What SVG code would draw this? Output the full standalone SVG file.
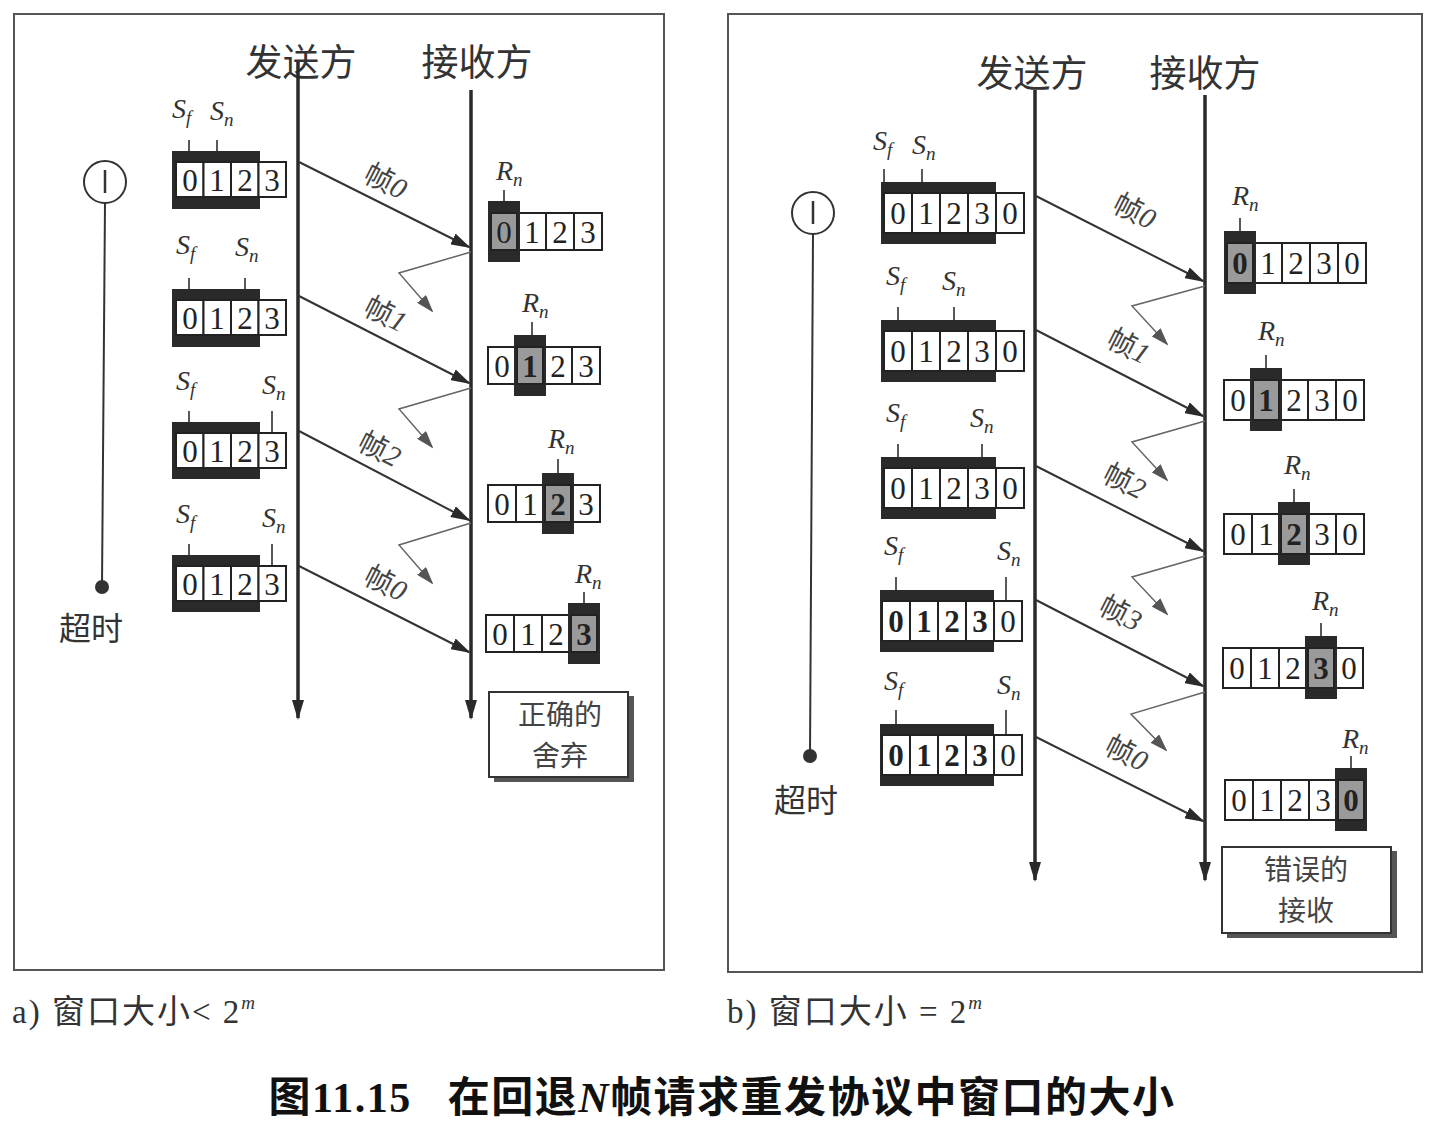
<svg xmlns="http://www.w3.org/2000/svg" width="1435" height="1126" viewBox="0 0 1435 1126">
<defs>
<style>
.panel{fill:#fff;stroke:#555;stroke-width:2}
.tl{stroke:#2a2a2a;stroke-width:3.5;fill:none}
.fr{stroke:#333;stroke-width:2;fill:none}
.ack{stroke:#666;stroke-width:1.5;fill:none}
.band{fill:#2a2a2a}
.cell{fill:#fff;stroke:#222;stroke-width:2}
.sh{fill:#9a9a9a;stroke:#222;stroke-width:2}
.tick{stroke:#222;stroke-width:1.5}
.dg{font-family:"Liberation Serif",serif;font-size:31px;fill:#222;text-anchor:middle}
.dgb{font-family:"Liberation Serif",serif;font-size:31px;font-weight:bold;fill:#222;text-anchor:middle}
.var{font-family:"Liberation Serif",serif;font-style:italic;font-size:28px;fill:#333}
.sub{font-size:19px}
.hd{font-family:"Noto Sans CJK SC",sans-serif;font-size:37px;fill:#333;text-anchor:middle}
.fl{font-family:"Noto Sans CJK SC",sans-serif;font-size:29px;fill:#444;text-anchor:middle}
.cap{font-family:"Liberation Serif","Noto Sans CJK SC",serif;font-size:33px;fill:#333;letter-spacing:2px}
.title{font-family:"Liberation Serif","Noto Sans CJK SC",serif;font-size:42px;font-weight:bold;fill:#111;text-anchor:middle;letter-spacing:1.5px}
.box{fill:#fff;stroke:#333;stroke-width:2}
.shadow{fill:#555}
.bt{font-family:"Noto Sans CJK SC",sans-serif;font-size:28px;fill:#444;text-anchor:middle}
</style>
<marker id="ah" markerWidth="20" markerHeight="12" refX="18" refY="6" orient="auto" markerUnits="userSpaceOnUse"><path d="M0,0 L20,6 L0,12 Z" fill="#2a2a2a"/></marker>
<marker id="ahs" markerWidth="18" markerHeight="12" refX="16" refY="6" orient="auto" markerUnits="userSpaceOnUse"><path d="M0,0 L18,6 L0,12 Z" fill="#555"/></marker>
</defs>
<rect width="1435" height="1126" fill="#fff"/>

<g id="panel-a">
<rect class="panel" x="14" y="14" width="650" height="956"/>
<text class="hd" x="301" y="76">发送方</text>
<text class="hd" x="477" y="76">接收方</text>
</g>
<g id="panel-b">
<rect class="panel" x="728" y="14" width="694" height="958"/>
<text class="hd" x="1032" y="87">发送方</text>
<text class="hd" x="1205" y="87">接收方</text>
</g>

<g id="timer-a">
<circle cx="105" cy="182" r="21" fill="#fff" stroke="#333" stroke-width="2"/>
<line x1="105" y1="170" x2="105" y2="193" stroke="#333" stroke-width="2.5"/>
<line x1="105" y1="203" x2="102" y2="586" stroke="#333" stroke-width="2"/>
<circle cx="102" cy="587" r="7" fill="#333"/>
<text class="hd" x="91" y="640" style="font-size:32px">超时</text>
</g>
<g id="timer-b">
<circle cx="813" cy="213" r="21" fill="#fff" stroke="#333" stroke-width="2"/>
<line x1="813" y1="201" x2="813" y2="224" stroke="#333" stroke-width="2.5"/>
<line x1="813" y1="234" x2="810" y2="755" stroke="#333" stroke-width="2"/>
<circle cx="810" cy="756" r="7" fill="#333"/>
<text class="hd" x="806" y="812" style="font-size:32px">超时</text>
</g>

<g id="connectors">
<line class="tl" x1="298" y1="62" x2="298" y2="718" marker-end="url(#ah)"/>
<line class="tl" x1="471" y1="90" x2="471" y2="718" marker-end="url(#ah)"/>
<line class="tl" x1="1035" y1="90" x2="1035" y2="880" marker-end="url(#ah)"/>
<line class="tl" x1="1205" y1="95" x2="1205" y2="880" marker-end="url(#ah)"/>

<line class="fr" x1="299" y1="162" x2="469" y2="247" marker-end="url(#ah)"/>
<line class="fr" x1="299" y1="296" x2="469" y2="383" marker-end="url(#ah)"/>
<line class="fr" x1="299" y1="431" x2="469" y2="520" marker-end="url(#ah)"/>
<line class="fr" x1="299" y1="566" x2="469" y2="652" marker-end="url(#ah)"/>
<polyline class="ack" points="471,252 399,273 432,311" marker-end="url(#ahs)"/>
<polyline class="ack" points="471,388 399,409 432,447" marker-end="url(#ahs)"/>
<polyline class="ack" points="471,523 399,545 432,583" marker-end="url(#ahs)"/>

<line class="fr" x1="1036" y1="196" x2="1203" y2="281" marker-end="url(#ah)"/>
<line class="fr" x1="1036" y1="330" x2="1203" y2="416" marker-end="url(#ah)"/>
<line class="fr" x1="1036" y1="466" x2="1203" y2="551" marker-end="url(#ah)"/>
<line class="fr" x1="1036" y1="600" x2="1203" y2="686" marker-end="url(#ah)"/>
<line class="fr" x1="1036" y1="737" x2="1203" y2="821" marker-end="url(#ah)"/>
<polyline class="ack" points="1205,286 1132,306 1167,344" marker-end="url(#ahs)"/>
<polyline class="ack" points="1205,421 1132,442 1167,480" marker-end="url(#ahs)"/>
<polyline class="ack" points="1205,556 1132,577 1167,614" marker-end="url(#ahs)"/>
<polyline class="ack" points="1205,692 1131,714 1166,750" marker-end="url(#ahs)"/>

<text class="fl" transform="translate(381,190) rotate(27)">帧<tspan font-style="italic" font-family="Liberation Serif">0</tspan></text>
<text class="fl" transform="translate(381,323) rotate(27)">帧<tspan font-style="italic" font-family="Liberation Serif">1</tspan></text>
<text class="fl" transform="translate(375,458) rotate(27)">帧<tspan font-style="italic" font-family="Liberation Serif">2</tspan></text>
<text class="fl" transform="translate(381,592) rotate(27)">帧<tspan font-style="italic" font-family="Liberation Serif">0</tspan></text>
<text class="fl" transform="translate(1130,220) rotate(27)">帧<tspan font-style="italic" font-family="Liberation Serif">0</tspan></text>
<text class="fl" transform="translate(1124,355) rotate(27)">帧<tspan font-style="italic" font-family="Liberation Serif">1</tspan></text>
<text class="fl" transform="translate(1120,490) rotate(27)">帧<tspan font-style="italic" font-family="Liberation Serif">2</tspan></text>
<text class="fl" transform="translate(1116,622) rotate(27)">帧<tspan font-style="italic" font-family="Liberation Serif">3</tspan></text>
<text class="fl" transform="translate(1122,762) rotate(27)">帧<tspan font-style="italic" font-family="Liberation Serif">0</tspan></text>
</g>

<!-- Sender windows, panel a -->
<g id="sa1">
<text class="var" x="172" y="118">S<tspan class="sub" dy="6">f</tspan></text>
<text class="var" x="210" y="120">S<tspan class="sub" dy="6">n</tspan></text>
<line class="tick" x1="189" y1="140" x2="189" y2="153"/><line class="tick" x1="217" y1="140" x2="217" y2="153"/>
<rect class="band" x="172" y="151" width="88" height="58"/>
<rect class="cell" x="176" y="162" width="27.5" height="35"/><rect class="cell" x="203.5" y="162" width="27.5" height="35"/><rect class="cell" x="231" y="162" width="27.5" height="35"/><rect class="cell" x="258.5" y="162" width="27.5" height="35"/>
<text class="dg" x="190" y="191">0</text><text class="dg" x="217" y="191">1</text><text class="dg" x="245" y="191">2</text><text class="dg" x="272" y="191">3</text>
</g>
<g id="sa2">
<text class="var" x="176" y="254">S<tspan class="sub" dy="6">f</tspan></text>
<text class="var" x="235" y="256">S<tspan class="sub" dy="6">n</tspan></text>
<line class="tick" x1="189" y1="278" x2="189" y2="291"/><line class="tick" x1="245" y1="278" x2="245" y2="291"/>
<rect class="band" x="172" y="289" width="88" height="58"/>
<rect class="cell" x="176" y="300" width="27.5" height="35"/><rect class="cell" x="203.5" y="300" width="27.5" height="35"/><rect class="cell" x="231" y="300" width="27.5" height="35"/><rect class="cell" x="258.5" y="300" width="27.5" height="35"/>
<text class="dg" x="190" y="329">0</text><text class="dg" x="217" y="329">1</text><text class="dg" x="245" y="329">2</text><text class="dg" x="272" y="329">3</text>
</g>
<g id="sa3">
<text class="var" x="176" y="390">S<tspan class="sub" dy="6">f</tspan></text>
<text class="var" x="262" y="394">S<tspan class="sub" dy="6">n</tspan></text>
<line class="tick" x1="189" y1="411" x2="189" y2="424"/><line class="tick" x1="272" y1="411" x2="272" y2="433"/>
<rect class="band" x="172" y="422" width="88" height="57"/>
<rect class="cell" x="176" y="433" width="27.5" height="35"/><rect class="cell" x="203.5" y="433" width="27.5" height="35"/><rect class="cell" x="231" y="433" width="27.5" height="35"/><rect class="cell" x="258.5" y="433" width="27.5" height="35"/>
<text class="dg" x="190" y="462">0</text><text class="dg" x="217" y="462">1</text><text class="dg" x="245" y="462">2</text><text class="dg" x="272" y="462">3</text>
</g>
<g id="sa4">
<text class="var" x="176" y="523">S<tspan class="sub" dy="6">f</tspan></text>
<text class="var" x="262" y="527">S<tspan class="sub" dy="6">n</tspan></text>
<line class="tick" x1="189" y1="544" x2="189" y2="557"/><line class="tick" x1="272" y1="544" x2="272" y2="566"/>
<rect class="band" x="172" y="555" width="88" height="57"/>
<rect class="cell" x="176" y="566" width="27.5" height="35"/><rect class="cell" x="203.5" y="566" width="27.5" height="35"/><rect class="cell" x="231" y="566" width="27.5" height="35"/><rect class="cell" x="258.5" y="566" width="27.5" height="35"/>
<text class="dg" x="190" y="595">0</text><text class="dg" x="217" y="595">1</text><text class="dg" x="245" y="595">2</text><text class="dg" x="272" y="595">3</text>
</g>

<!-- Receiver windows, panel a -->
<g id="ra1">
<text class="var" x="496" y="180">R<tspan class="sub" dy="6">n</tspan></text>
<line class="tick" x1="504" y1="190" x2="504" y2="202"/>
<rect class="cell" x="490" y="213" width="28" height="37"/><rect class="cell" x="518" y="213" width="28" height="37"/><rect class="cell" x="546" y="213" width="28" height="37"/><rect class="cell" x="574" y="213" width="28" height="37"/>
<rect class="band" x="488" y="201" width="32" height="61"/><rect class="sh" x="491" y="213" width="26" height="37"/>
<text class="dg" x="504" y="243">0</text><text class="dg" x="532" y="243">1</text><text class="dg" x="560" y="243">2</text><text class="dg" x="588" y="243">3</text>
</g>
<g id="ra2">
<text class="var" x="522" y="312">R<tspan class="sub" dy="6">n</tspan></text>
<line class="tick" x1="532" y1="322" x2="532" y2="336"/>
<rect class="cell" x="488" y="347" width="28" height="37"/><rect class="cell" x="516" y="347" width="28" height="37"/><rect class="cell" x="544" y="347" width="28" height="37"/><rect class="cell" x="572" y="347" width="28" height="37"/>
<rect class="band" x="514" y="335" width="32" height="61"/><rect class="sh" x="517" y="347" width="26" height="37"/>
<text class="dg" x="502" y="377">0</text><text class="dgb" x="530" y="377">1</text><text class="dg" x="558" y="377">2</text><text class="dg" x="586" y="377">3</text>
</g>
<g id="ra3">
<text class="var" x="548" y="448">R<tspan class="sub" dy="6">n</tspan></text>
<line class="tick" x1="558" y1="459" x2="558" y2="474"/>
<rect class="cell" x="488" y="485" width="28" height="37"/><rect class="cell" x="516" y="485" width="28" height="37"/><rect class="cell" x="544" y="485" width="28" height="37"/><rect class="cell" x="572" y="485" width="28" height="37"/>
<rect class="band" x="542" y="473" width="32" height="61"/><rect class="sh" x="545" y="485" width="26" height="37"/>
<text class="dg" x="502" y="515">0</text><text class="dg" x="530" y="515">1</text><text class="dgb" x="558" y="515">2</text><text class="dg" x="586" y="515">3</text>
</g>
<g id="ra4">
<text class="var" x="575" y="583">R<tspan class="sub" dy="6">n</tspan></text>
<line class="tick" x1="584" y1="592" x2="584" y2="604"/>
<rect class="cell" x="486" y="615" width="28" height="37"/><rect class="cell" x="514" y="615" width="28" height="37"/><rect class="cell" x="542" y="615" width="28" height="37"/><rect class="cell" x="570" y="615" width="28" height="37"/>
<rect class="band" x="568" y="603" width="32" height="61"/><rect class="sh" x="571" y="615" width="26" height="37"/>
<text class="dg" x="500" y="645">0</text><text class="dg" x="528" y="645">1</text><text class="dg" x="556" y="645">2</text><text class="dgb" x="584" y="645">3</text>
</g>
<g id="note-a">
<rect class="shadow" x="494" y="696" width="140" height="86"/>
<rect class="box" x="489" y="692" width="139" height="85"/>
<text class="bt" x="560" y="725">正确的</text>
<text class="bt" x="560" y="766">舍弃</text>
</g>

<!-- Sender windows, panel b -->
<g id="sb1">
<text class="var" x="873" y="150">S<tspan class="sub" dy="6">f</tspan></text>
<text class="var" x="912" y="154">S<tspan class="sub" dy="6">n</tspan></text>
<line class="tick" x1="884" y1="169" x2="884" y2="184"/><line class="tick" x1="922" y1="169" x2="922" y2="184"/>
<rect class="band" x="881" y="182" width="115" height="62"/>
<rect class="cell" x="884" y="193" width="28" height="40"/><rect class="cell" x="912" y="193" width="28" height="40"/><rect class="cell" x="940" y="193" width="28" height="40"/><rect class="cell" x="968" y="193" width="28" height="40"/><rect class="cell" x="996" y="193" width="28" height="40"/>
<text class="dg" x="898" y="224">0</text><text class="dg" x="926" y="224">1</text><text class="dg" x="954" y="224">2</text><text class="dg" x="982" y="224">3</text><text class="dg" x="1010" y="224">0</text>
</g>
<g id="sb2">
<text class="var" x="886" y="285">S<tspan class="sub" dy="6">f</tspan></text>
<text class="var" x="942" y="290">S<tspan class="sub" dy="6">n</tspan></text>
<line class="tick" x1="898" y1="307" x2="898" y2="322"/><line class="tick" x1="954" y1="307" x2="954" y2="322"/>
<rect class="band" x="881" y="320" width="115" height="62"/>
<rect class="cell" x="884" y="331" width="28" height="40"/><rect class="cell" x="912" y="331" width="28" height="40"/><rect class="cell" x="940" y="331" width="28" height="40"/><rect class="cell" x="968" y="331" width="28" height="40"/><rect class="cell" x="996" y="331" width="28" height="40"/>
<text class="dg" x="898" y="362">0</text><text class="dg" x="926" y="362">1</text><text class="dg" x="954" y="362">2</text><text class="dg" x="982" y="362">3</text><text class="dg" x="1010" y="362">0</text>
</g>
<g id="sb3">
<text class="var" x="886" y="422">S<tspan class="sub" dy="6">f</tspan></text>
<text class="var" x="970" y="427">S<tspan class="sub" dy="6">n</tspan></text>
<line class="tick" x1="898" y1="444" x2="898" y2="459"/><line class="tick" x1="982" y1="444" x2="982" y2="459"/>
<rect class="band" x="881" y="457" width="115" height="62"/>
<rect class="cell" x="884" y="468" width="28" height="40"/><rect class="cell" x="912" y="468" width="28" height="40"/><rect class="cell" x="940" y="468" width="28" height="40"/><rect class="cell" x="968" y="468" width="28" height="40"/><rect class="cell" x="996" y="468" width="28" height="40"/>
<text class="dg" x="898" y="499">0</text><text class="dg" x="926" y="499">1</text><text class="dg" x="954" y="499">2</text><text class="dg" x="982" y="499">3</text><text class="dg" x="1010" y="499">0</text>
</g>
<g id="sb4">
<text class="var" x="884" y="555">S<tspan class="sub" dy="6">f</tspan></text>
<text class="var" x="997" y="560">S<tspan class="sub" dy="6">n</tspan></text>
<line class="tick" x1="896" y1="577" x2="896" y2="592"/><line class="tick" x1="1006" y1="577" x2="1006" y2="601"/>
<rect class="band" x="880" y="590" width="114" height="62"/>
<rect class="cell" x="882" y="601" width="28" height="40"/><rect class="cell" x="910" y="601" width="28" height="40"/><rect class="cell" x="938" y="601" width="28" height="40"/><rect class="cell" x="966" y="601" width="28" height="40"/><rect class="cell" x="994" y="601" width="28" height="40"/>
<text class="dgb" x="896" y="632">0</text><text class="dgb" x="924" y="632">1</text><text class="dgb" x="952" y="632">2</text><text class="dgb" x="980" y="632">3</text><text class="dg" x="1008" y="632">0</text>
</g>
<g id="sb5">
<text class="var" x="884" y="690">S<tspan class="sub" dy="6">f</tspan></text>
<text class="var" x="997" y="694">S<tspan class="sub" dy="6">n</tspan></text>
<line class="tick" x1="896" y1="710" x2="896" y2="725"/><line class="tick" x1="1006" y1="710" x2="1006" y2="735"/>
<rect class="band" x="880" y="724" width="114" height="62"/>
<rect class="cell" x="882" y="735" width="28" height="40"/><rect class="cell" x="910" y="735" width="28" height="40"/><rect class="cell" x="938" y="735" width="28" height="40"/><rect class="cell" x="966" y="735" width="28" height="40"/><rect class="cell" x="994" y="735" width="28" height="40"/>
<text class="dgb" x="896" y="766">0</text><text class="dgb" x="924" y="766">1</text><text class="dgb" x="952" y="766">2</text><text class="dgb" x="980" y="766">3</text><text class="dg" x="1008" y="766">0</text>
</g>

<!-- Receiver windows, panel b -->
<g id="rb1">
<text class="var" x="1232" y="205">R<tspan class="sub" dy="6">n</tspan></text>
<line class="tick" x1="1240" y1="218" x2="1240" y2="232"/>
<rect class="cell" x="1226" y="243" width="28" height="40"/><rect class="cell" x="1254" y="243" width="28" height="40"/><rect class="cell" x="1282" y="243" width="28" height="40"/><rect class="cell" x="1310" y="243" width="28" height="40"/><rect class="cell" x="1338" y="243" width="28" height="40"/>
<rect class="band" x="1224" y="231" width="32" height="63"/><rect class="sh" x="1227" y="243" width="26" height="40"/>
<text class="dgb" x="1240" y="274">0</text><text class="dg" x="1268" y="274">1</text><text class="dg" x="1296" y="274">2</text><text class="dg" x="1324" y="274">3</text><text class="dg" x="1352" y="274">0</text>
</g>
<g id="rb2">
<text class="var" x="1258" y="340">R<tspan class="sub" dy="6">n</tspan></text>
<line class="tick" x1="1266" y1="355" x2="1266" y2="369"/>
<rect class="cell" x="1224" y="380" width="28" height="40"/><rect class="cell" x="1252" y="380" width="28" height="40"/><rect class="cell" x="1280" y="380" width="28" height="40"/><rect class="cell" x="1308" y="380" width="28" height="40"/><rect class="cell" x="1336" y="380" width="28" height="40"/>
<rect class="band" x="1250" y="368" width="32" height="63"/><rect class="sh" x="1253" y="380" width="26" height="40"/>
<text class="dg" x="1238" y="411">0</text><text class="dgb" x="1266" y="411">1</text><text class="dg" x="1294" y="411">2</text><text class="dg" x="1322" y="411">3</text><text class="dg" x="1350" y="411">0</text>
</g>
<g id="rb3">
<text class="var" x="1284" y="474">R<tspan class="sub" dy="6">n</tspan></text>
<line class="tick" x1="1294" y1="489" x2="1294" y2="503"/>
<rect class="cell" x="1224" y="514" width="28" height="40"/><rect class="cell" x="1252" y="514" width="28" height="40"/><rect class="cell" x="1280" y="514" width="28" height="40"/><rect class="cell" x="1308" y="514" width="28" height="40"/><rect class="cell" x="1336" y="514" width="28" height="40"/>
<rect class="band" x="1278" y="502" width="32" height="63"/><rect class="sh" x="1281" y="514" width="26" height="40"/>
<text class="dg" x="1238" y="545">0</text><text class="dg" x="1266" y="545">1</text><text class="dgb" x="1294" y="545">2</text><text class="dg" x="1322" y="545">3</text><text class="dg" x="1350" y="545">0</text>
</g>
<g id="rb4">
<text class="var" x="1312" y="610">R<tspan class="sub" dy="6">n</tspan></text>
<line class="tick" x1="1321" y1="623" x2="1321" y2="637"/>
<rect class="cell" x="1223" y="648" width="28" height="40"/><rect class="cell" x="1251" y="648" width="28" height="40"/><rect class="cell" x="1279" y="648" width="28" height="40"/><rect class="cell" x="1307" y="648" width="28" height="40"/><rect class="cell" x="1335" y="648" width="28" height="40"/>
<rect class="band" x="1305" y="636" width="32" height="63"/><rect class="sh" x="1308" y="648" width="26" height="40"/>
<text class="dg" x="1237" y="679">0</text><text class="dg" x="1265" y="679">1</text><text class="dg" x="1293" y="679">2</text><text class="dgb" x="1321" y="679">3</text><text class="dg" x="1349" y="679">0</text>
</g>
<g id="rb5">
<text class="var" x="1342" y="748">R<tspan class="sub" dy="6">n</tspan></text>
<line class="tick" x1="1351" y1="756" x2="1351" y2="769"/>
<rect class="cell" x="1225" y="780" width="28" height="40"/><rect class="cell" x="1253" y="780" width="28" height="40"/><rect class="cell" x="1281" y="780" width="28" height="40"/><rect class="cell" x="1309" y="780" width="28" height="40"/><rect class="cell" x="1337" y="780" width="28" height="40"/>
<rect class="band" x="1335" y="768" width="32" height="63"/><rect class="sh" x="1338" y="780" width="26" height="40"/>
<text class="dg" x="1239" y="811">0</text><text class="dg" x="1267" y="811">1</text><text class="dg" x="1295" y="811">2</text><text class="dg" x="1323" y="811">3</text><text class="dgb" x="1351" y="811">0</text>
</g>
<g id="note-b">
<rect class="shadow" x="1227" y="851" width="170" height="87"/>
<rect class="box" x="1222" y="847" width="169" height="86"/>
<text class="bt" x="1306" y="880">错误的</text>
<text class="bt" x="1306" y="921">接收</text>
</g>

<g id="captions">
<text class="cap" x="12" y="1023">a) 窗口大小&lt; 2<tspan font-size="19" font-style="italic" dy="-14">m</tspan></text>
<text class="cap" x="727" y="1023">b) 窗口大小 = 2<tspan font-size="19" font-style="italic" dy="-14">m</tspan></text>
<text class="title" x="722" y="1112" xml:space="preserve">图11.15   在回退<tspan font-style="italic">N</tspan>帧请求重发协议中窗口的大小</text>
</g>
</svg>
